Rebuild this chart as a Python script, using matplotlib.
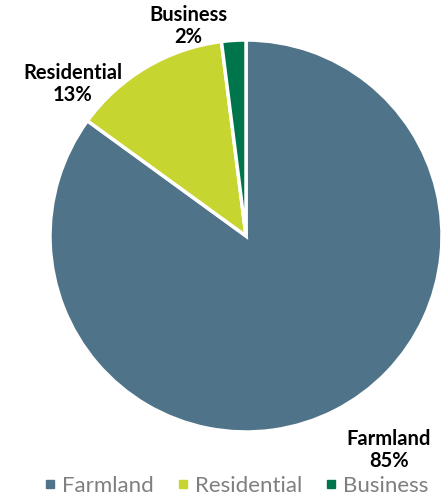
import matplotlib
matplotlib.use("Agg")
import matplotlib.pyplot as plt
from matplotlib.lines import Line2D

categories = ["Farmland", "Residential", "Business"]
values = [85, 13, 2]
colors = ["#4F748A", "#C6D530", "#00744A"]

W, H = 445, 499
fig = plt.figure(figsize=(W / 100, H / 100), dpi=100)
cx, cy, r = 246, 236, 196
ax = fig.add_axes([(cx - r) / W, (H - cy - r) / H, 2 * r / W, 2 * r / H])
ax.pie(values, colors=colors, startangle=90, counterclock=False,
       wedgeprops=dict(edgecolor="white", linewidth=2.5))
ax.set_xlim(-1, 1)
ax.set_ylim(-1, 1)
ax.set_aspect("equal")
ax.axis("off")

def px(x, y):
    return (x - cx) / r, (cy - y) / r

label_pos = [(389, 450), (73, 84), (188, 26)]
for cat, v, (x, y) in zip(categories, values, label_pos):
    dx, dy = px(x, y)
    ax.text(dx, dy, f"{cat}\n{v}%", ha="center", va="center", fontsize=14.5,
            fontweight="bold", family="Lato", color="black", clip_on=False,
            linespacing=1.15)

handles = [Line2D([], [], marker="s", linestyle="none", markersize=6,
                  markerfacecolor=c, markeredgecolor=c) for c in colors]
fig.legend(handles, categories, loc="center", bbox_to_anchor=(236 / W, 1 - 486 / H),
           ncol=3, frameon=False, prop=dict(family="Lato", size=16),
           labelcolor="#7F7F7F", handletextpad=0.25, columnspacing=1.0,
           handlelength=0.6, borderpad=0)

fig.savefig("out.png", dpi=100)
